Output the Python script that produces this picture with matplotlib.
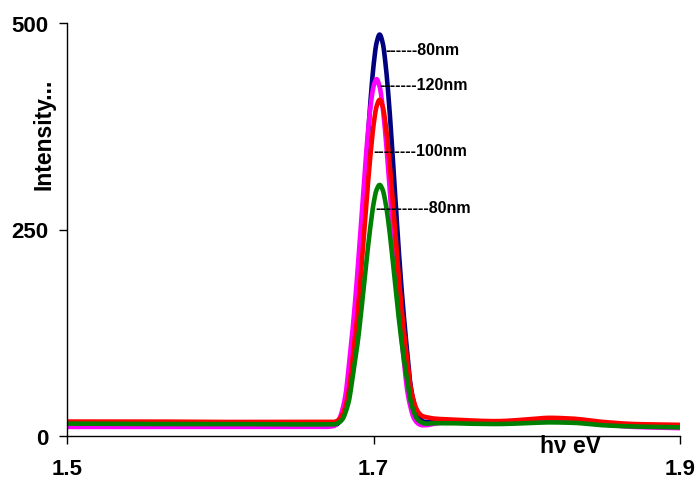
import numpy as np
import matplotlib
matplotlib.use("Agg")
import matplotlib.pyplot as plt

plt.rcParams['font.family'] = ['Liberation Sans', 'DejaVu Sans']
plt.rcParams['font.weight'] = 'bold'

# Photon energy (eV): flat region, peak region (0.002 eV steps), tail
energy = ([1.50, 1.55, 1.60, 1.65, 1.668]
          + [round(1.674 + 0.002 * i, 3) for i in range(31)]
          + [1.740, 1.75, 1.76, 1.78, 1.80, 1.815, 1.83, 1.85, 1.87, 1.90])

blue_80nm = ([13, 13, 13, 13, 13]
             + [13, 14, 18, 25, 39, 60, 98, 138, 183, 236, 294, 352, 405, 448, 476, 486,
                476, 448, 406, 353, 296, 238, 186, 141, 101, 64, 43, 29, 22, 18, 17]
             + [17, 17.5, 17, 16.5, 18.5, 20, 19, 15, 12.5, 12])

magenta_120nm = ([11, 11, 11, 11, 11]
                 + [12, 15, 22, 34, 53, 87, 122, 163, 210, 261, 313, 360, 398, 423, 432,
                    423, 398, 360, 313, 262, 211, 164, 124, 88, 55, 36, 23, 17, 14, 13, 13]
                 + [15, 17, 16.5, 16, 18, 19.5, 18.5, 14, 11, 9.5])

red_100nm = ([17.5, 17.5, 17, 17, 17]
             + [17, 18, 21, 27, 38, 56, 87, 120, 157, 201, 249, 297, 340, 376, 399, 407,
                399, 376, 341, 298, 251, 204, 161, 124, 92, 61, 44, 33, 27, 24, 23]
             + [21, 20, 19, 18, 20, 22, 21, 17, 14.5, 13.5])

green_80nm = ([15, 14.5, 14.5, 14, 14]
              + [14, 15, 17, 21, 30, 43, 66, 91, 118, 151, 186, 222, 254, 281, 298, 304,
                 298, 281, 255, 222, 187, 151, 119, 91, 67, 44, 31, 22, 18, 16, 15]
              + [15.5, 15.5, 15, 14.5, 15.5, 16.5, 16, 13, 11.5, 10.5])

series = [
    (blue_80nm, '#000080'),
    (magenta_120nm, '#FF00FF'),
    (red_100nm, '#FF0000'),
    (green_80nm, '#008000'),
]

# Curve annotations: (text, x, y)
annotations = [
    ('------80nm', 1.7075, 468),
    ('-------120nm', 1.7036, 425),
    ('--------100nm', 1.6997, 346),
    ('----------80nm', 1.7010, 277),
]

x_ticks = [1.5, 1.7, 1.9]
x_tick_labels = ['1.5', '1.7', '1.9']
y_ticks = [0, 250, 500]
y_tick_labels = ['0', '250', '500']


def smooth_curve(x, y, n=20):
    """Monotone cubic (Fritsch-Carlson) resampling for a smooth drawn line."""
    x = np.asarray(x, float)
    y = np.asarray(y, float)
    h = np.diff(x)
    delta = np.diff(y) / h
    m = np.zeros_like(y)
    m[0], m[-1] = delta[0], delta[-1]
    for i in range(1, len(x) - 1):
        if delta[i - 1] * delta[i] <= 0:
            m[i] = 0.0
        else:
            w1 = 2 * h[i] + h[i - 1]
            w2 = h[i] + 2 * h[i - 1]
            m[i] = (w1 + w2) / (w1 / delta[i - 1] + w2 / delta[i])
    xs, ys = [], []
    for i in range(len(x) - 1):
        t = np.linspace(0, 1, n, endpoint=False)
        h00 = 2 * t**3 - 3 * t**2 + 1
        h10 = t**3 - 2 * t**2 + t
        h01 = -2 * t**3 + 3 * t**2
        h11 = t**3 - t**2
        xs.append(x[i] + t * h[i])
        ys.append(h00 * y[i] + h10 * h[i] * m[i] + h01 * y[i + 1] + h11 * h[i] * m[i + 1])
    xs.append([x[-1]])
    ys.append([y[-1]])
    return np.concatenate(xs), np.concatenate(ys)


fig = plt.figure(figsize=(6.95, 4.85), dpi=100)
ax = fig.add_axes([67 / 695, 1 - 437 / 485, 613 / 695, 413 / 485])

for values, color in series:
    xs, ys = smooth_curve(energy, values)
    ax.plot(xs, ys, color=color, linewidth=3.3, solid_capstyle='butt', clip_on=False)

for text, x, y in annotations:
    ax.text(x, y, text, fontsize=11.5, fontweight='bold', color='black',
            ha='left', va='center')

ax.set_xlim(1.5, 1.9)
ax.set_ylim(0, 500)
ax.set_xticks(x_ticks)
ax.set_xticklabels(x_tick_labels)
ax.set_yticks(y_ticks)
ax.set_yticklabels(y_tick_labels)

for side in ('top', 'right'):
    ax.spines[side].set_visible(False)
for side in ('left', 'bottom'):
    ax.spines[side].set_linewidth(1.0)
    ax.spines[side].set_color('black')

ax.tick_params(axis='both', direction='out', length=5.5, width=1.0, color='black',
               labelsize=16)
ax.tick_params(axis='x', pad=10)
ax.tick_params(axis='y', pad=8)
for lbl in ax.get_xticklabels() + ax.get_yticklabels():
    lbl.set_fontweight('bold')

ax.text((570 - 67) / 613, (437 - 447) / 413, 'h\u03bd eV', transform=ax.transAxes,
        fontsize=16.5, fontweight='bold', ha='center', va='center', clip_on=False)

fig.text(44 / 695, 1 - 134 / 485, 'Intensity...', rotation=90, fontsize=16.5,
         fontweight='bold', ha='center', va='center')

fig.savefig('out.png', dpi=100, facecolor='white')
